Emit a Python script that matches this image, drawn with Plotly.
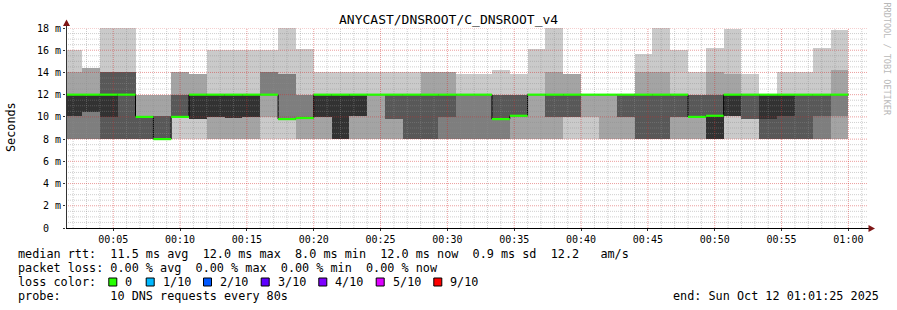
import plotly.graph_objects as go
from datetime import datetime, timedelta

# ---------------- data (10 sorted pings per 80 s step, ms) ----------------
start_time = datetime(2025, 10, 12, 0, 1, 20)
step_seconds = 80

ping_1 = [8, 8, 8, 8, 8, 8, 8, 8, 8, 8, 8, 8, 8, 8, 8, 8, 8, 8, 8, 8, 8, 8,
          8, 8, 8, 8, 8, 8, 8, 8, 8, 8, 8, 8, 8, 8, 8, 8, 8, 8, 8, 8, 8, 8]
ping_2 = [8, 8, 8, 8, 8, 8, 10, 9.8, 8, 8, 8, 10, 9.8, 8, 8, 8, 8, 8, 8, 8, 8, 8,
          8, 8, 8, 8, 8, 8, 10, 10, 8, 8, 8, 8, 8, 8, 8, 10.1, 9.8, 8, 8, 8, 8, 8]
ping_3 = [8, 8, 8, 8, 8, 8, 10, 9.8, 10, 9.9, 10, 12, 9.8, 9.9, 10, 8, 10.1, 12, 9.8, 8, 8, 8,
          8, 8, 8, 10.1, 12, 10, 10, 12, 12, 10, 8, 8, 10, 10, 8, 10.1, 9.8, 8, 8, 8, 8, 10.1]
ping_4 = [10.1, 10.4, 8, 8, 8, 8, 10, 9.8, 10, 9.9, 10, 12, 9.8, 9.9, 10, 8, 10.1, 12, 9.8, 8, 8, 10,
          12, 12, 9.8, 10.1, 12, 10, 10, 12, 12, 10, 8, 8, 10, 10, 8, 10.1, 9.8, 8, 8, 8, 10.1, 12]
ping_5 = [10.1, 10.4, 10, 12, 10, 8, 10, 9.8, 10, 9.9, 10, 12, 9.8, 9.9, 10, 8, 10.1, 12, 12, 12, 12, 12,
          12, 12, 9.8, 10.1, 12, 12, 12, 12, 12, 12, 12, 12, 12, 10, 8, 10.1, 12, 9.8, 10.1, 12, 12, 12]
ping_6 = [12, 12, 12, 12, 10, 8, 10, 12, 12, 12, 12, 12, 9.8, 9.9, 12, 12, 12, 12, 12, 12, 12, 12,
          12, 12, 9.8, 10.1, 12, 12, 12, 12, 12, 12, 12, 12, 12, 10, 10.1, 12, 12, 12, 12, 12, 12, 12]
ping_7 = [12, 12, 14, 14, 10, 10.1, 12, 12, 12, 12, 12, 12, 9.8, 9.9, 12, 12, 12, 12, 12, 12, 12, 12,
          12, 12, 12, 12, 12, 12, 12, 12, 12, 12, 12, 12, 12, 12, 12, 12, 12, 12, 12, 12, 12, 12]
ping_8 = [12, 12, 14, 14, 10, 10.1, 12, 12, 12, 12, 12, 14, 13.9, 12, 12, 12, 12, 12, 12, 12, 12, 12,
          12, 12, 12, 12, 12, 12, 12, 12, 12, 12, 12, 12, 12, 12, 12, 12, 12, 12, 12, 12, 12, 12]
ping_9 = [14, 14.4, 14, 14, 12, 12, 14, 13.9, 12, 12, 12, 14, 13.9, 12, 12, 12, 12, 12, 12, 12, 14, 14,
          12, 12, 12, 12, 12, 14, 13.9, 12, 12, 12, 14, 14, 12, 12, 14, 13.9, 12, 12, 12, 12, 12, 14.2]
ping_10 = [16, 14.4, 18, 18, 12, 12, 14, 13.9, 16, 16, 16, 16, 18, 16.1, 14, 14, 14, 14, 14, 14, 14, 14,
           13.9, 13.9, 14.2, 13.9, 16.1, 18, 13.9, 12, 12, 12, 15.7, 18, 16, 14, 16.2, 17.9, 13.9, 12, 14, 14, 16.2, 17.8]
median_rtt = ping_6

y_tick_values = [0, 2, 4, 6, 8, 10, 12, 14, 16, 18]
y_tick_labels = ["0\u00a0\u00a0", "2 m", "4 m", "6 m", "8 m", "10 m", "12 m", "14 m", "16 m", "18 m"]

title_text = "ANYCAST/DNSROOT/C_DNSROOT_v4"
legend_lines = [
    "median rtt:  11.5 ms avg  12.0 ms max  8.0 ms min  12.0 ms now  0.9 ms sd  12.2   am/s",
    "packet loss: 0.00 % avg  0.00 % max  0.00 % min  0.00 % now",
    "loss color:",
    "probe:       10 DNS requests every 80s",
]
loss_labels = ["0", "1/10", "2/10", "3/10", "4/10", "5/10", "9/10"]
loss_colors = ["#26ff00", "#00b8ff", "#0059ff", "#5e00ff", "#7e00ff", "#dd00ff", "#ff0000"]
end_text = "end: Sun Oct 12 01:01:25 2025"

# ---------------- geometry ----------------
W, H = 897, 310
L, R, T, B = 66, 868, 28, 228
FONT = "DejaVu Sans Mono"


def px(x):
    return (x - L) / (R - L)


def py(y):
    return (B - y) / (B - T)


n = len(median_rtt)
starts = [start_time + timedelta(seconds=step_seconds * i) for i in range(n)]
centers = [s + timedelta(seconds=step_seconds / 2) for s in starts]
end_time = starts[-1] + timedelta(seconds=step_seconds)

fig = go.Figure()

pings = [ping_1, ping_2, ping_3, ping_4, ping_5, ping_6, ping_7, ping_8, ping_9, ping_10]
smoke_colors = ["#cacaca", "#a4a4a4", "#7e7e7e", "#585858", "#323232"]
for i in range(5):
    lo = pings[i]
    hi = pings[9 - i]
    fig.add_trace(go.Bar(
        x=centers, base=lo, y=[h - l for h, l in zip(hi, lo)],
        width=step_seconds * 1000, marker=dict(color=smoke_colors[i], line=dict(width=0)),
        hoverinfo="skip", showlegend=False))

# dark step line joining median levels
fig.add_trace(go.Scatter(
    x=starts + [end_time], y=median_rtt + [median_rtt[-1]], mode="lines",
    line=dict(color="#000000", width=1, shape="hv"), hoverinfo="skip", showlegend=False))

# grid on top of the smoke
x_axis_start = datetime(2025, 10, 12, 0, 1, 28)
x_axis_end = datetime(2025, 10, 12, 1, 1, 28)
minor_x, major_x = [], []
t = datetime(2025, 10, 12, 0, 2, 0)
while t < x_axis_end:
    target = major_x if t.minute % 5 == 0 else minor_x
    target += [t, t, None]
    t += timedelta(minutes=1)
minor_xy = []
for t in range(len(minor_x) // 3):
    minor_xy += [0, 18, None]
major_xy = []
for t in range(len(major_x) // 3):
    major_xy += [0, 18, None]

minor_y_x, minor_y_y, major_y_x, major_y_y = [], [], [], []
for k in range(1, 37):
    v = k * 0.5
    if k % 4 == 0:
        major_y_x += [x_axis_start, x_axis_end, None]
        major_y_y += [v, v, None]
    else:
        minor_y_x += [x_axis_start, x_axis_end, None]
        minor_y_y += [v, v, None]

grid_minor = "rgba(140,140,140,0.42)"
grid_major = "rgba(210,40,40,0.45)"
for gx, gy, col in [(minor_x, minor_xy, grid_minor), (minor_y_x, minor_y_y, grid_minor),
                    (major_x, major_xy, grid_major), (major_y_x, major_y_y, grid_major)]:
    fig.add_trace(go.Scatter(x=gx, y=gy, mode="lines",
                             line=dict(color=col, width=1, dash="1px,1px"),
                             hoverinfo="skip", showlegend=False, cliponaxis=False))

# median line (loss colour for 0 loss)
seg_x, seg_y = [], []
for s, m in zip(starts, median_rtt):
    seg_x += [s, s + timedelta(seconds=step_seconds), None]
    seg_y += [m, m, None]
fig.add_trace(go.Scatter(x=seg_x, y=seg_y, mode="lines",
                         line=dict(color=loss_colors[0], width=2.2),
                         hoverinfo="skip", showlegend=False))

fig.update_layout(
    width=W, height=H,
    margin=dict(l=L, r=W - R, t=T, b=H - B, pad=0),
    paper_bgcolor="white", plot_bgcolor="white",
    barmode="overlay", bargap=0,
    font=dict(family=FONT, size=10, color="black"),
    showlegend=False,
    xaxis=dict(type="date", range=[x_axis_start, x_axis_end],
               tick0=datetime(2025, 10, 12, 0, 0, 0), dtick=300000, tickformat="%H:%M",
               showgrid=False, zeroline=False, showline=False,
               ticks="outside", ticklen=2, tickcolor="#333333",
               tickfont=dict(family=FONT, size=10, color="black")),
    yaxis=dict(range=[0, 18], tickmode="array", tickvals=y_tick_values, ticktext=y_tick_labels,
               showgrid=False, zeroline=False, showline=False,
               ticks="outside", ticklen=2, tickcolor="#333333",
               tickfont=dict(family=FONT, size=10, color="black")),
)

shapes = []
# axes
shapes.append(dict(type="line", xref="paper", yref="paper", x0=px(66.5), x1=px(66.5), y0=py(228.5), y1=py(24),
                   line=dict(color="#333333", width=1)))
shapes.append(dict(type="line", xref="paper", yref="paper", x0=px(66), x1=px(870), y0=py(228.5), y1=py(228.5),
                   line=dict(color="#000000", width=1)))
arrow = "#7f1616"
shapes.append(dict(type="path", xref="paper", yref="paper",
                   path=f"M {px(66.5)} {py(19.5)} L {px(63)} {py(26)} L {px(70)} {py(26)} Z",
                   fillcolor=arrow, line=dict(width=0)))
shapes.append(dict(type="path", xref="paper", yref="paper",
                   path=f"M {px(875)} {py(228.5)} L {px(868.5)} {py(225)} L {px(868.5)} {py(232)} Z",
                   fillcolor=arrow, line=dict(width=0)))

# loss colour boxes
box_left = [108.3, 145.7, 203, 260.7, 318.3, 375.7, 433.3]
annotations = []
for bx, col, lab in zip(box_left, loss_colors, loss_labels):
    shapes.append(dict(type="rect", xref="paper", yref="paper",
                       x0=px(bx + 0.5), x1=px(bx + 8.5), y0=py(286), y1=py(278),
                       fillcolor=col, line=dict(color="black", width=1)))
    annotations.append(dict(text=lab, xref="paper", yref="paper", x=px(bx + 15), y=py(282),
                            xanchor="left", yanchor="middle", showarrow=False,
                            font=dict(family=FONT, size=11.8, color="black")))

fig.update_layout(shapes=shapes)

annotations.append(dict(text=title_text, xref="paper", yref="paper", x=px(448), y=py(19),
                        xanchor="center", yanchor="middle", showarrow=False,
                        font=dict(family=FONT, size=13, color="black")))
annotations.append(dict(text="Seconds", xref="paper", yref="paper", x=px(11), y=py(127),
                        xanchor="center", yanchor="middle", textangle=-90, showarrow=False,
                        font=dict(family=FONT, size=11.8, color="black")))
annotations.append(dict(text="RRDTOOL / TOBI OETIKER", xref="paper", yref="paper", x=px(886.5), y=py(59),
                        xanchor="center", yanchor="middle", textangle=90, showarrow=False,
                        font=dict(family=FONT, size=8.5, color="#b8b8b8")))
for i, line in enumerate(legend_lines):
    annotations.append(dict(text=line.replace(" ", "\u00a0"), xref="paper", yref="paper",
                            x=px(16), y=py(254 + 14 * i),
                            xanchor="left", yanchor="middle", showarrow=False,
                            font=dict(family=FONT, size=11.8, color="black")))
annotations.append(dict(text=end_text.replace(" ", "\u00a0"), xref="paper", yref="paper",
                        x=px(881), y=py(296), xanchor="right", yanchor="middle", showarrow=False,
                        font=dict(family=FONT, size=11.8, color="black")))
fig.update_layout(annotations=annotations)

fig.write_html("out.html")
